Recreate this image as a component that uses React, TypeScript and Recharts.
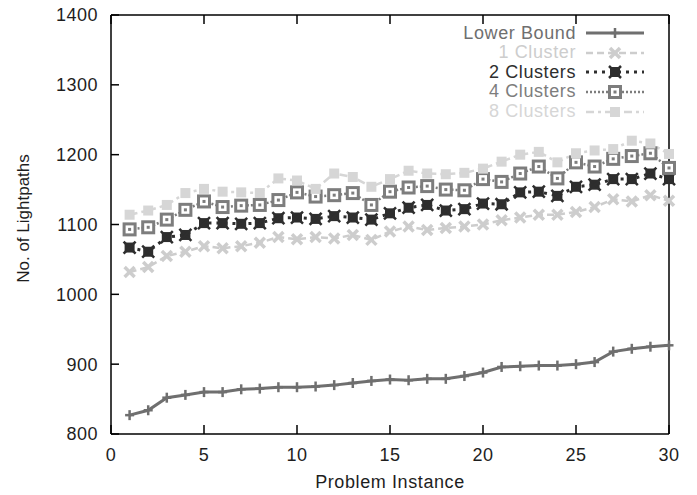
import React from 'react';
import { LineChart, Line, XAxis, YAxis } from 'recharts';

const instances = [1, 2, 3, 4, 5, 6, 7, 8, 9, 10, 11, 12, 13, 14, 15, 16, 17, 18, 19, 20, 21, 22, 23, 24, 25, 26, 27, 28, 29, 30];
const lowerBound = [827, 834, 852, 856, 860, 860, 864, 865, 867, 867, 868, 870, 873, 876, 878, 877, 879, 879, 883, 888, 896, 897, 898, 898, 900, 903, 918, 922, 925, 927];
const cluster1 = [1032, 1039, 1055, 1061, 1069, 1066, 1069, 1074, 1082, 1079, 1082, 1080, 1085, 1078, 1090, 1097, 1092, 1095, 1097, 1100, 1106, 1110, 1114, 1114, 1118, 1125, 1136, 1133, 1142, 1134];
const cluster2 = [1067, 1061, 1082, 1085, 1102, 1102, 1101, 1102, 1109, 1110, 1108, 1112, 1110, 1107, 1116, 1124, 1128, 1120, 1122, 1130, 1129, 1146, 1147, 1141, 1154, 1157, 1165, 1165, 1173, 1165];
const cluster4 = [1093, 1096, 1107, 1121, 1133, 1125, 1127, 1128, 1135, 1146, 1140, 1142, 1145, 1128, 1147, 1153, 1155, 1150, 1149, 1165, 1161, 1173, 1183, 1166, 1189, 1183, 1194, 1198, 1202, 1181];
const cluster8 = [1114, 1120, 1128, 1145, 1151, 1147, 1146, 1145, 1166, 1163, 1151, 1173, 1168, 1154, 1165, 1177, 1173, 1172, 1174, 1180, 1190, 1200, 1204, 1189, 1202, 1206, 1208, 1220, 1216, 1201];

const xTicks = [0, 5, 10, 15, 20, 25, 30];
const yTicks = [800, 900, 1000, 1100, 1200, 1300, 1400];

const data = instances.map((x, i) => ({
  x,
  lb: lowerBound[i],
  c1: cluster1[i],
  c2: cluster2[i],
  c4: cluster4[i],
  c8: cluster8[i],
}));

const FONT = '"Liberation Sans", Arial, sans-serif';
const TEXT = '#1e1e1e';

type MarkerKind = 'plus' | 'cross' | 'blob' | 'box' | 'fill';

const drawMarker = (kind: MarkerKind, cx: number, cy: number, color: string, key?: string) => {
  switch (kind) {
    case 'plus':
      return (
        <g key={key}>
          <line x1={cx - 4.5} y1={cy} x2={cx + 4.5} y2={cy} stroke={color} strokeWidth={2.5} />
          <line x1={cx} y1={cy - 5} x2={cx} y2={cy + 5} stroke={color} strokeWidth={2.5} />
        </g>
      );
    case 'cross':
      return (
        <g key={key}>
          <line x1={cx - 5} y1={cy - 5} x2={cx + 5} y2={cy + 5} stroke={color} strokeWidth={3.5} />
          <line x1={cx - 5} y1={cy + 5} x2={cx + 5} y2={cy - 5} stroke={color} strokeWidth={3.5} />
        </g>
      );
    case 'blob':
      return (
        <g key={key}>
          <rect x={cx - 5} y={cy - 5} width={10} height={10} fill={color} />
          <line x1={cx - 6} y1={cy - 6} x2={cx + 6} y2={cy + 6} stroke={color} strokeWidth={2.5} />
          <line x1={cx - 6} y1={cy + 6} x2={cx + 6} y2={cy - 6} stroke={color} strokeWidth={2.5} />
        </g>
      );
    case 'box':
      return (
        <g key={key}>
          <rect x={cx - 5.5} y={cy - 5.5} width={11} height={11} fill="#fff" stroke={color} strokeWidth={3} />
          <rect x={cx - 1.5} y={cy - 1.5} width={3} height={3} fill={color} />
        </g>
      );
    default:
      return <rect key={key} x={cx - 5} y={cy - 5} width={10} height={10} fill={color} />;
  }
};

const makeDot = (kind: MarkerKind, color: string) => (props: any) => {
  const { cx, cy, index } = props;
  if (cx == null || cy == null) return <g key={`e${index}`} />;
  return drawMarker(kind, cx, cy, color, `${kind}${index}`);
};

const series = [
  { key: 'lb', name: 'Lower Bound', color: '#6f6f6f', dash: undefined as string | undefined, width: 3, marker: 'plus' as MarkerKind },
  { key: 'c1', name: '1 Cluster', color: '#cdcdcd', dash: '7 4', width: 2.5, marker: 'cross' as MarkerKind },
  { key: 'c2', name: '2 Clusters', color: '#2e2e2e', dash: '3 5', width: 3, marker: 'blob' as MarkerKind },
  { key: 'c4', name: '4 Clusters', color: '#7d7d7d', dash: '2 2', width: 2.5, marker: 'box' as MarkerKind },
  { key: 'c8', name: '8 Clusters', color: '#d6d6d6', dash: '8 4 3 4', width: 2.5, marker: 'fill' as MarkerKind },
];

const LegendBox = () => (
  <div style={{ position: 'absolute', left: 400, top: 23.5, width: 246, fontFamily: FONT, fontSize: 18, letterSpacing: 0.6 }}>
    {series.map((s) => (
      <div
        key={s.key}
        style={{ display: 'flex', justifyContent: 'flex-end', alignItems: 'center', height: 19.6, lineHeight: '19.6px' }}
      >
        <span style={{ color: s.color }}>{s.name}</span>
        <svg width={60} height={18} style={{ marginLeft: 10 }}>
          <line x1={0} y1={9} x2={58} y2={9} stroke={s.color} strokeWidth={s.width} strokeDasharray={s.dash} />
          {drawMarker(s.marker, 29, 9, s.color)}
        </svg>
      </div>
    ))}
  </div>
);

export default function App() {
  return (
    <div style={{ position: 'absolute', left: 0, top: 0, width: 697, height: 495 }}>
      <LineChart width={697} height={495} data={data} margin={{ top: 0, right: 0, bottom: 0, left: 0 }}>
        <XAxis
          dataKey="x"
          type="number"
          domain={[0, 30]}
          ticks={xTicks}
          height={61}
          stroke="#000"
          strokeWidth={1.5}
          tickSize={-9}
          tickMargin={23}
          tick={{ fill: TEXT, fontSize: 18, fontFamily: FONT, letterSpacing: 0.5 }}
          label={{ value: 'Problem Instance', position: 'insideBottom', offset: 7, fill: TEXT, fontSize: 18, fontFamily: FONT, letterSpacing: 0.6 }}
        />
        <XAxis
          xAxisId="top"
          orientation="top"
          dataKey="x"
          type="number"
          domain={[0, 30]}
          ticks={xTicks}
          height={15}
          stroke="#000"
          strokeWidth={1.5}
          tickSize={-9}
          tickFormatter={() => ''}
        />
        <YAxis
          type="number"
          domain={[800, 1400]}
          ticks={yTicks}
          width={111}
          stroke="#000"
          strokeWidth={1.5}
          tickSize={-8}
          tickMargin={21}
          tick={{ fill: TEXT, fontSize: 18, fontFamily: FONT, letterSpacing: 0.5 }}
          label={{
            value: 'No. of Lightpaths',
            angle: -90,
            position: 'insideLeft',
            offset: 23,
            dy: -6,
            fill: TEXT,
            fontSize: 17,
            fontFamily: FONT,
            style: { textAnchor: 'middle' },
          }}
        />
        <YAxis
          yAxisId="right"
          orientation="right"
          type="number"
          domain={[800, 1400]}
          ticks={yTicks}
          width={28}
          stroke="#000"
          strokeWidth={1.5}
          tickSize={-8}
          tickFormatter={() => ''}
        />
        {series.map((s) => (
          <Line
            key={s.key}
            dataKey={s.key}
            name={s.name}
            type="linear"
            stroke={s.color}
            strokeWidth={s.width}
            strokeDasharray={s.dash}
            dot={makeDot(s.marker, s.color)}
            activeDot={false}
            isAnimationActive={false}
          />
        ))}
      </LineChart>
      <LegendBox />
    </div>
  );
}
